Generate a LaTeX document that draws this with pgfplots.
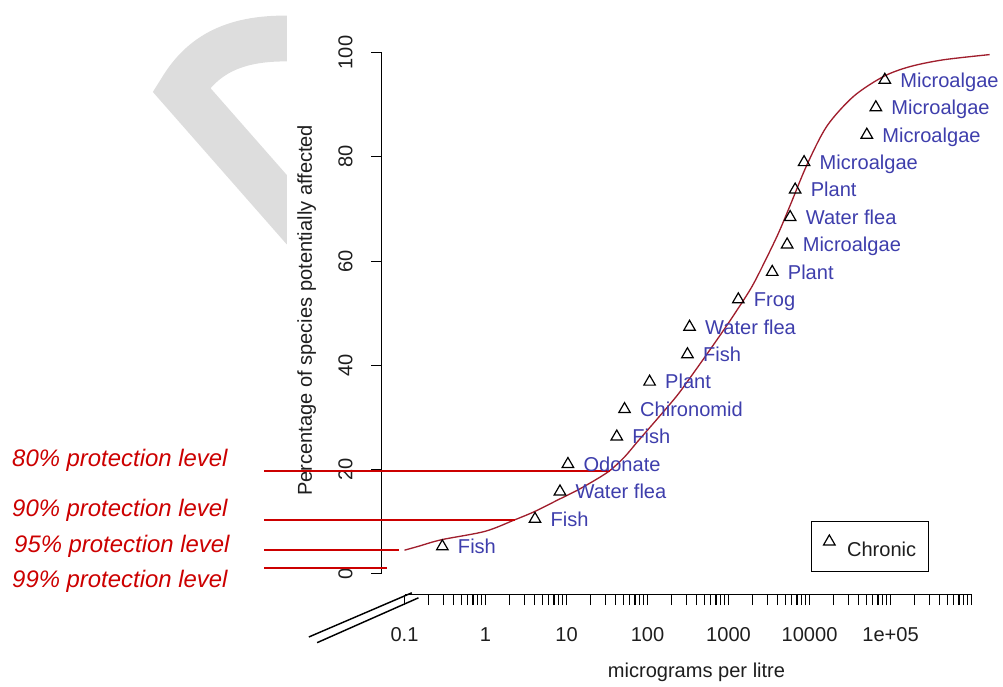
\documentclass[border=0pt]{standalone}
\usepackage{pgfplots}
\pgfplotsset{compat=1.18}
\usepackage{fontspec}
\setmainfont{Liberation Sans}
\definecolor{curvecol}{RGB}{160,30,45}
\definecolor{labcol}{RGB}{62,62,172}
\definecolor{protred}{RGB}{204,0,0}
\definecolor{wmgray}{RGB}{221,221,221}
\definecolor{axtext}{RGB}{30,30,30}
\newcommand{\fs}{\fontsize{15.1}{18}\selectfont}
\begin{document}
\begin{tikzpicture}
\begin{scope}[shift={(-287.25pt,447.75pt)}, x=0.75pt, y=-0.75pt]
\useasboundingbox (0,0) rectangle (1003,686);
\begin{scope}
\clip (0,0) rectangle (288,686);
\draw[wmgray, line width=34.5pt] (300,39) .. controls (240,36) and (205,52) .. (182,90) -- (305,230);
\end{scope}
\draw[black, line width=1.1pt] (310,639.3) -- (413.3,595);
\draw[black, line width=1.1pt] (318.3,645) -- (420,600);
\node[anchor=base west, inner sep=0pt, text=protred, font=\fontsize{18}{21}\selectfont\itshape] at (12,468.5) {80\% protection level};
\node[anchor=base west, inner sep=0pt, text=protred, font=\fontsize{18}{21}\selectfont\itshape] at (12,518.7) {90\% protection level};
\node[anchor=base west, inner sep=0pt, text=protred, font=\fontsize{18}{21}\selectfont\itshape] at (14,554.5) {95\% protection level};
\node[anchor=base west, inner sep=0pt, text=protred, font=\fontsize{18}{21}\selectfont\itshape] at (12,589.3) {99\% protection level};
\end{scope}
\begin{axis}[
  at={(0,0)}, anchor=south west,
  scale only axis, width=462.75pt, height=417.75pt,
  xmode=log, xmin=0.05213, xmax=2.024e6,
  ymin=-4.013, ymax=102.43,
  clip=false,
  axis lines*=left,
  axis line style={draw=none},
  tick align=outside,
  major tick length=7.7pt, minor tick length=7.7pt,
  every tick/.style={black, line width=0.8pt},
  xtick={0.1,1,10,100,1000,10000,100000,1000000},
  xticklabels={0.1,1,10,100,1000,10000,1e+05,{}},
  minor xtick={0.2,0.3,0.4,0.5,0.6,0.7,0.8,0.9,2,3,4,5,6,7,8,9,20,30,40,50,60,70,80,90,200,300,400,500,600,700,800,900,2000,3000,4000,5000,6000,7000,8000,9000,20000,30000,40000,50000,60000,70000,80000,90000,2e5,3e5,4e5,5e5,6e5,7e5,8e5,9e5},
  ytick={0,20,40,60,80,100},
  yticklabels={0,20,40,60,80,100},
  tick label style={font=\fs, text=axtext},
  xticklabel style={anchor=base, yshift=-27.8pt},
  yticklabel style={xshift=-14.3pt, rotate=90, anchor=base},
  xlabel={micrograms per litre},
  ylabel={Percentage of species potentially affected},
  label style={font=\fs, text=axtext},
  x label style={at={(axis description cs:0.5122,-0.149)}, anchor=base},
  y label style={at={(axis description cs:-0.1135,0.5126)}, anchor=base},
  legend style={at={(axis description cs:0.6985,0.1329)}, anchor=north west, draw=black, line width=0.9pt, fill=white, font=\fs, text=axtext, inner xsep=9pt, inner ysep=10pt, nodes={inner sep=0pt}, column sep=9pt},
  legend cell align=left,
]
\addplot[only marks, mark=triangle, mark size=5pt, mark options={black, line width=0.9pt, fill=none},
  nodes near coords, point meta=explicit symbolic,
  every node near coord/.append style={anchor=base west, xshift=8pt, yshift=-5.4pt, font=\fs, text=labcol},
  legend image code/.code={\draw[black, line width=0.9pt, mark=triangle, mark size=5pt] plot coordinates {(0pt,6.5pt)};}]
  table[x=x, y=y, meta=lab, col sep=comma, row sep=\\] {
x,y,lab\\
0.293,5.263,Fish\\
4.08,10.526,Fish\\
8.3,15.789,Water flea\\
10.4,21.053,Odonate\\
41.7,26.316,Fish\\
52,31.579,Chironomid\\
106,36.842,Plant\\
311,42.105,Fish\\
330,47.368,Water flea\\
1320,52.632,Frog\\
3460,57.895,Plant\\
5290,63.158,Microalgae\\
5760,68.421,Water flea\\
6640,73.684,Plant\\
8560,78.947,Microalgae\\
50900,84.211,Microalgae\\
65800,89.474,Microalgae\\
84900,94.737,Microalgae\\
};
\addlegendentry{Chronic}
\addplot[black, line width=0.9pt, forget plot] coordinates {(0.1,-4.013) (1000000,-4.013)};
\addplot[black, line width=0.9pt, forget plot] coordinates {(0.05213,0) (0.05213,100)};
\addplot[curvecol, line width=1pt, smooth, tension=0.5, forget plot] table[row sep=\\] {
x y\\
0.1 4.55\\
0.149 5.3\\
0.285 6.55\\
0.984 8.16\\
2.30 10.38\\
4.06 11.98\\
7.84 14.2\\
13.8 16.1\\
24.3 18.3\\
34.8 19.9\\
51.8 22.4\\
75.6 25.4\\
133 29.8\\
234 34.3\\
376 38.7\\
603 43.2\\
966 47.8\\
1700 53.6\\
2260 57.0\\
3980 64.8\\
5800 70.8\\
9310 78.5\\
16400 85.9\\
35000 91.6\\
81800 95.4\\
174000 97.3\\
448000 98.6\\
1670000 99.6\\
};
\addplot[protred, line width=1.5pt, forget plot] coordinates {(0.001845,19.74) (34.8,19.74)};
\addplot[protred, line width=1.5pt, forget plot] coordinates {(0.001845,10.38) (2.30,10.38)};
\addplot[protred, line width=1.5pt, forget plot] coordinates {(0.001845,4.53) (0.0844,4.53)};
\addplot[protred, line width=1.5pt, forget plot] coordinates {(0.001845,1.15) (0.060,1.15)};
\end{axis}
\end{tikzpicture}
\end{document}
